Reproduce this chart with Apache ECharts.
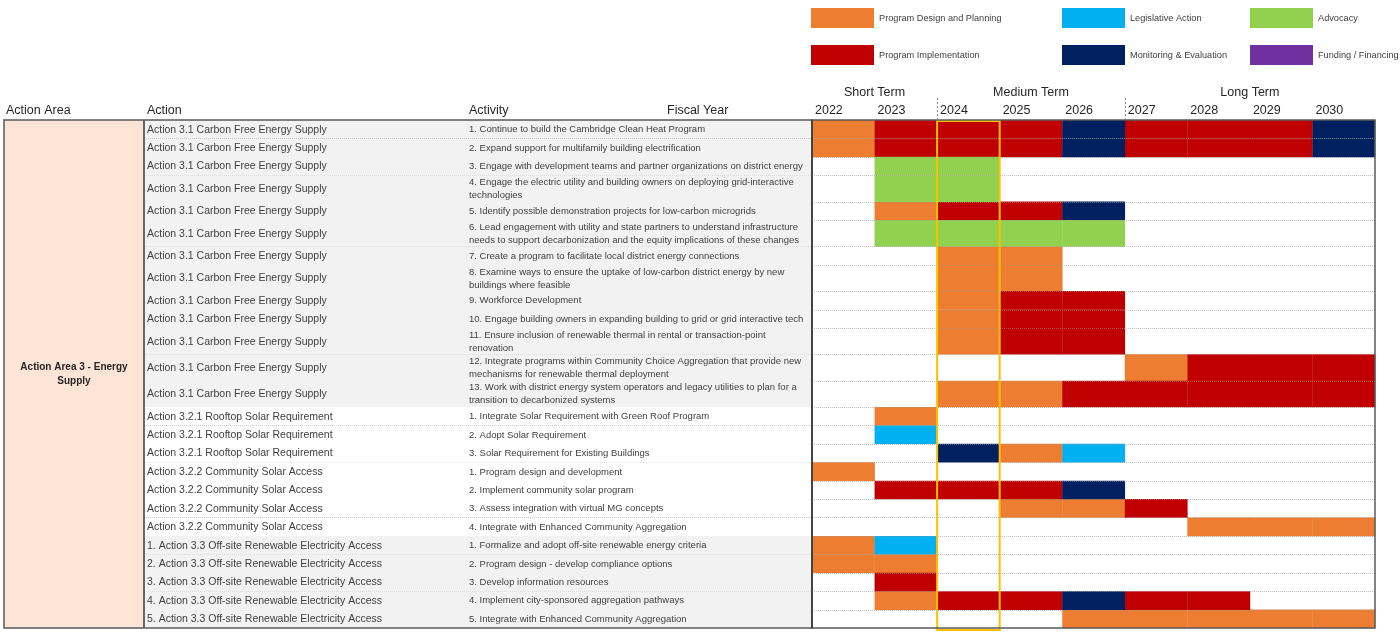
<!DOCTYPE html>
<html><head><meta charset="utf-8">
<script src="https://cdn.jsdelivr.net/npm/echarts@6/dist/echarts.min.js"></script>
<style>html,body{margin:0;padding:0;background:#fff}#c{width:1400px;height:632px}</style>
</head><body><div id="c"></div><script>
// ---------------- data ----------------
const years = [2022, 2023, 2024, 2025, 2026, 2027, 2028, 2029, 2030];
const terms = ['Short Term', 'Medium Term', 'Long Term'];
const termStart = [2022, 2024, 2027];
const termEnd = [2024, 2027, 2031];
const highlightYear = 2024;
const categories = ['Program Design and Planning', 'Program Implementation', 'Legislative Action', 'Monitoring & Evaluation', 'Advocacy', 'Funding / Financing'];
const categoryCodes = ['D', 'I', 'L', 'M', 'A', 'F'];
const categoryColors = ['#ED7D31', '#C00000', '#00B0F0', '#002060', '#92D050', '#7030A0'];
const headers = ['Action Area', 'Action', 'Activity', 'Fiscal Year'];
const actionArea = 'Action Area 3 - Energy\nSupply';
const actions = [
  'Action 3.1 Carbon Free Energy Supply','Action 3.1 Carbon Free Energy Supply','Action 3.1 Carbon Free Energy Supply',
  'Action 3.1 Carbon Free Energy Supply','Action 3.1 Carbon Free Energy Supply','Action 3.1 Carbon Free Energy Supply',
  'Action 3.1 Carbon Free Energy Supply','Action 3.1 Carbon Free Energy Supply','Action 3.1 Carbon Free Energy Supply',
  'Action 3.1 Carbon Free Energy Supply','Action 3.1 Carbon Free Energy Supply','Action 3.1 Carbon Free Energy Supply',
  'Action 3.1 Carbon Free Energy Supply',
  'Action 3.2.1 Rooftop Solar Requirement','Action 3.2.1 Rooftop Solar Requirement','Action 3.2.1 Rooftop Solar Requirement',
  'Action 3.2.2 Community Solar Access','Action 3.2.2 Community Solar Access','Action 3.2.2 Community Solar Access',
  'Action 3.2.2 Community Solar Access',
  '1. Action 3.3 Off-site Renewable Electricity Access','2. Action 3.3 Off-site Renewable Electricity Access',
  '3. Action 3.3 Off-site Renewable Electricity Access','4. Action 3.3 Off-site Renewable Electricity Access',
  '5. Action 3.3 Off-site Renewable Electricity Access'
];
const activities = [
  '1. Continue to build the Cambridge Clean Heat Program',
  '2. Expand support for multifamily building electrification',
  '3. Engage with development teams and partner organizations on district energy',
  '4. Engage the electric utility and building owners on deploying grid-interactive\ntechnologies',
  '5. Identify possible demonstration projects for low-carbon microgrids',
  '6. Lead engagement with utility and state partners to understand infrastructure\nneeds to support decarbonization and the equity implications of these changes',
  '7. Create a program to facilitate local district energy connections',
  '8. Examine ways to ensure the uptake of low-carbon district energy by new\nbuildings where feasible',
  '9. Workforce Development',
  '10. Engage building owners in expanding building to grid or grid interactive tech',
  '11. Ensure inclusion of renewable thermal in rental or transaction-point\nrenovation',
  '12. Integrate programs within Community Choice Aggregation that provide new\nmechanisms for renewable thermal deployment',
  '13. Work with district energy system operators and legacy utilities to plan for a\ntransition to decarbonized systems',
  '1. Integrate Solar Requirement with Green Roof Program',
  '2. Adopt Solar Requirement',
  '3. Solar Requirement for Existing Buildings',
  '1. Program design and development',
  '2. Implement community solar program',
  '3. Assess integration with virtual MG concepts',
  '4. Integrate with Enhanced Community Aggregation',
  '1. Formalize and adopt off-site renewable energy criteria',
  '2. Program design - develop compliance options',
  '3. Develop information resources',
  '4. Implement city-sponsored aggregation pathways',
  '5. Integrate with Enhanced Community Aggregation'
];
// one code per fiscal year 2022..2030 ('.' = nothing)
const phases = [
  'DIIIMIIIM','DIIIMIIIM','.AA......','.AA......','.DIIM....','.AAAA....','..DD.....','..DD.....',
  '..DII....','..DII....','..DII....','.....DIII','..DDIIIII','.D.......','.L.......','..MDL....',
  'D........','.IIIM....','...DDI...','......DDD','DL.......','DD.......','.I.......','.DIIMII..','....DDDDD'
];

// ---------------- layout / style ----------------
const FONT = 'Liberation Sans';
const TEXT = '#404040';
const DOUBLE = 1.43;
const shadedGroups = ['3.1', '3.3'];
const rowH = activities.map(a => a.split('\n').length > 1 ? DOUBLE : 1);
const rowTop = [];
let acc = 0; rowH.forEach(h => { rowTop.push(acc); acc += h; });
const total = acc;
const N = actions.length;
const COL_ACTION = 140, COL_ACTIVITY = 461;

function isShaded(r) { return shadedGroups.some(g => actions[r].indexOf('Action ' + g + ' ') >= 0); }

function barRender(params, api) {
  const p0 = api.coord([api.value(0), api.value(2)]);
  const p1 = api.coord([api.value(1), api.value(3)]);
  return { type: 'rect', shape: { x: p0[0], y: p0[1], width: p1[0] - p0[0] + 0.3, height: p1[1] - p0[1] + 0.3 },
    style: { fill: api.visual('color') } };
}

const barSeries = categories.map((name, ci) => {
  const data = [];
  phases.forEach((p, r) => {
    for (let k = 0; k < years.length; k++) if (p[k] === categoryCodes[ci])
      data.push([years[k], years[k] + 1, rowTop[r], rowTop[r] + rowH[r], r]);
  });
  return { name, type: 'custom', xAxisIndex: 1, yAxisIndex: 1, itemStyle: { color: categoryColors[ci] },
    renderItem: barRender, encode: { x: [0, 1], y: [2, 3] }, data, z: 2 };
});

function txt(o) {
  return Object.assign({ fill: TEXT, align: 'left', textAlign: 'left', verticalAlign: 'middle', textVerticalAlign: 'middle' }, o);
}

// table text rows (grid 0)
const tableSeries = {
  type: 'custom', xAxisIndex: 0, yAxisIndex: 0, silent: true, z: 1,
  data: actions.map((a, r) => [0, rowTop[r], r]),
  encode: { x: 0, y: 1 },
  renderItem: function (params, api) {
    const r = api.value(2);
    const cs = params.coordSys;
    const top = api.coord([0, rowTop[r]])[1];
    const bot = api.coord([0, rowTop[r] + rowH[r]])[1];
    const xa = cs.x + COL_ACTION, xe = cs.x + cs.width;
    const mid = (top + bot) / 2;
    const ch = [
      { type: 'rect', shape: { x: xa, y: top, width: xe - xa, height: bot - top + 0.3 }, style: { fill: isShaded(r) ? '#F2F2F2' : '#FFFFFF' } },
      { type: 'text', style: txt({ text: actions[r], x: xa + 3, y: mid + 0.5, font: '10.5px ' + FONT }) },
      { type: 'text', style: txt({ text: activities[r], x: cs.x + COL_ACTIVITY + 4, y: mid + 0.5, font: '9.5px ' + FONT, lineHeight: 13 }) }
    ];
    if (r < N - 1) {
      const yy = Math.round(bot) + 0.5;
      ch.push({ type: 'line', shape: { x1: xa, y1: yy, x2: xe, y2: yy }, style: { stroke: '#9a9a9a', lineWidth: 1, lineDash: [1, 1] } });
    }
    return { type: 'group', children: ch };
  }
};

// action area merged cell + frame of grid 0
const areaSeries = {
  type: 'custom', xAxisIndex: 0, yAxisIndex: 0, silent: true, z: 5,
  data: [[0, 0]], encode: { x: 0, y: 1 },
  renderItem: function (params, api) {
    const cs = params.coordSys;
    return { type: 'group', children: [
      { type: 'rect', shape: { x: cs.x, y: cs.y, width: COL_ACTION, height: cs.height }, style: { fill: '#FCE4D6' } },
      { type: 'text', style: { text: actionArea, x: cs.x + COL_ACTION / 2, y: cs.y + cs.height / 2, align: 'center', textAlign: 'center',
        verticalAlign: 'middle', textVerticalAlign: 'middle', font: 'bold 10px ' + FONT, fill: '#262626', lineHeight: 14 } },
      { type: 'line', shape: { x1: cs.x + COL_ACTION, y1: cs.y, x2: cs.x + COL_ACTION, y2: cs.y + cs.height }, style: { stroke: '#3a3a3a', lineWidth: 1.5 } },
      { type: 'rect', shape: { x: cs.x, y: cs.y, width: cs.width, height: cs.height }, style: { fill: 'none', stroke: '#595959', lineWidth: 1.5 } }
    ] };
  }
};

// gantt grid overlay: dotted row lines, frame, highlight column
const ganttOverlay = {
  type: 'custom', xAxisIndex: 1, yAxisIndex: 1, silent: true, z: 6,
  data: [[highlightYear, 0]], encode: { x: 0, y: 1 },
  renderItem: function (params, api) {
    const cs = params.coordSys;
    const ch = [];
    for (let r = 0; r < N - 1; r++) {
      const yy = Math.round(api.coord([2022, rowTop[r] + rowH[r]])[1]) + 0.5;
      ch.push({ type: 'line', shape: { x1: cs.x, y1: yy, x2: cs.x + cs.width, y2: yy }, style: { stroke: 'rgba(150,150,150,0.6)', lineWidth: 1, lineDash: [1, 1] } });
    }
    const h0 = api.coord([api.value(0), 0]);
    const h1 = api.coord([api.value(0) + 1, total]);
    ch.push({ type: 'rect', shape: { x: h0[0], y: h0[1] + 1, width: h1[0] - h0[0], height: h1[1] - h0[1] + 1 }, style: { fill: 'none', stroke: '#FFC000', lineWidth: 2 } });
    ch.push({ type: 'rect', shape: { x: cs.x, y: cs.y, width: cs.width, height: cs.height }, style: { fill: 'none', stroke: '#595959', lineWidth: 1.5 } });
    ch.push({ type: 'line', shape: { x1: cs.x, y1: cs.y, x2: cs.x, y2: cs.y + cs.height }, style: { stroke: '#3a3a3a', lineWidth: 1.5 } });
    return { type: 'group', children: ch };
  }
};

// term headers
const termSeries = {
  type: 'custom', xAxisIndex: 1, yAxisIndex: 1, silent: true, z: 6,
  data: terms.map((t, i) => [termStart[i], termEnd[i], i]), encode: { x: [0, 1] },
  renderItem: function (params, api) {
    const cs = params.coordSys;
    const i = api.value(2);
    const x0 = api.coord([api.value(0), 0])[0];
    const x1 = api.coord([api.value(1), 0])[0];
    const ch = [{ type: 'text', style: { text: terms[i], x: (x0 + x1) / 2, y: cs.y - 27, align: 'center', textAlign: 'center',
      verticalAlign: 'middle', textVerticalAlign: 'middle', font: '12.5px ' + FONT, fill: '#262626' } }];
    if (i > 0) ch.push({ type: 'line', shape: { x1: Math.round(x0) + 0.5, y1: cs.y - 22, x2: Math.round(x0) + 0.5, y2: cs.y }, style: { stroke: '#8c8c8c', lineWidth: 1, lineDash: [2, 2] } });
    return { type: 'group', children: ch };
  }
};

const chart = echarts.init(document.getElementById('c'), null, { renderer: 'canvas' });
const legendLeft = [811, 1062, 1250];
chart.setOption({
  animation: false,
  backgroundColor: '#FFFFFF',
  textStyle: { fontFamily: FONT },
  legend: [0, 1, 2].map(i => ({
    orient: 'vertical', left: legendLeft[i], top: 8, padding: 0, itemWidth: 63, itemHeight: 20, itemGap: 17, icon: 'rect',
    selectedMode: false, data: [categories[2 * i], categories[2 * i + 1]],
    textStyle: { fontSize: 9.2, color: TEXT, fontFamily: FONT }
  })),
  grid: [
    { left: 4, top: 120, width: 808, height: 508 },
    { left: 812, top: 120, width: 563, height: 508 }
  ],
  xAxis: [
    { gridIndex: 0, type: 'value', min: 0, max: 1, show: false },
    { gridIndex: 1, type: 'value', position: 'top', min: 2022, max: 2031, interval: 1,
      axisLine: { show: false }, axisTick: { show: false }, splitLine: { show: false },
      axisLabel: { formatter: v => (years.indexOf(v) >= 0 ? String(v) : ''), align: 'left', margin: 3, padding: [0, 0, 0, 3],
        fontSize: 12.5, color: '#262626', fontFamily: FONT, showMaxLabel: true, showMinLabel: true } }
  ],
  yAxis: [
    { gridIndex: 0, type: 'value', inverse: true, min: 0, max: total, show: false },
    { gridIndex: 1, type: 'value', inverse: true, min: 0, max: total, show: false }
  ],
  graphic: [
    { type: 'text', left: 6, top: 104, style: { text: headers[0], font: '12.5px ' + FONT, fill: '#262626' } },
    { type: 'text', left: 147, top: 104, style: { text: headers[1], font: '12.5px ' + FONT, fill: '#262626' } },
    { type: 'text', left: 469, top: 104, style: { text: headers[2], font: '12.5px ' + FONT, fill: '#262626' } },
    { type: 'text', left: 667, top: 104, style: { text: headers[3], font: '12.5px ' + FONT, fill: '#262626' } }
  ],
  series: [tableSeries, areaSeries].concat(barSeries, [ganttOverlay, termSeries])
});
</script></body></html>
